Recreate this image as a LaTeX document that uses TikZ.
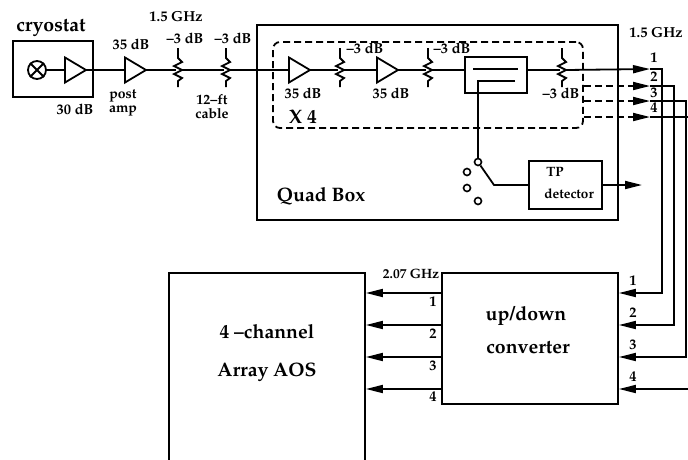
\documentclass[tikz,border=0pt]{standalone}
\usepackage[T1]{fontenc}
\usepackage{mathpazo}
\usetikzlibrary{arrows.meta}
\begin{document}
\begin{tikzpicture}[x=1pt,y=-1pt,
  wire/.style={line width=1.8pt},
  dsh/.style={line width=1.8pt, dash pattern=on 7pt off 4pt},
  box/.style={draw, wire, rectangle, inner sep=0pt},
  arr/.style={wire, -{Triangle[length=17pt,width=8pt]}},
  lbl/.style={inner sep=0pt, font=\fontsize{14.5}{15}\selectfont\bfseries},
  two/.style={inner sep=0pt, align=center, font=\fontsize{14}{14}\selectfont\bfseries},
  big/.style={inner sep=0pt, font=\fontsize{19.5}{20}\selectfont\bfseries},
  sm/.style={inner sep=0pt, font=\fontsize{13.5}{14}\selectfont\bfseries},
  dot/.style={draw, line width=1.6pt, circle, minimum size=7pt, inner sep=0pt},
  amp/.pic={\draw[wire] (-10,-12.5) -- (11,0) -- (-10,12.5) -- cycle;
            \coordinate (-in) at (-10,0); \coordinate (-out) at (11,0);},
  res/.pic={\draw[wire] (0,-22) -- (0,-12) -- (4,-8) -- (-4,-4) -- (4,0) -- (-4,4) -- (4,8) -- (0,11) -- (0,17);
            \coordinate (-w) at (-2,0); \coordinate (-e) at (4,0);}
]
\useasboundingbox (0,0) rectangle (688,459);

% ---------- cryostat ----------
\node[box, minimum width=80pt, minimum height=56pt] (cryo) at (53,69) {};
\node[big] (cryolbl) at (51,28) {cryostat};
\node[draw, wire, circle, minimum size=18pt, inner sep=0pt] (mix) at (37,70) {};
\draw[wire] (mix.north west) -- (mix.south east) (mix.north east) -- (mix.south west);
\pic (camp) at (75,70) {amp};
\draw[wire] (mix) -- (camp-in);
\node[lbl] (l30) at (75,109) {30 dB};

% ---------- post amp and cable ----------
\pic (pamp) at (135,70) {amp};
\draw[wire] (camp-out) -- (pamp-in);
\node[lbl] (l35a) at (131,44) {35 dB};
\node[two] (lpost) at (123,103) {post\\amp};
\pic (r1) at (178,70) {res};
\pic (r2) at (226,70) {res};
\draw[wire] (pamp-out) -- (r1-w) (r1-e) -- (r2-w);
\node[lbl] (lghz) at (176,17) {1.5 GHz};
\node[lbl] (lr1) at (185,38) {--3 dB};
\node[lbl] (lr2) at (233,38) {--3 dB};
\node[two] (l12) at (212,107) {12--ft\\cable};

% ---------- quad box ----------
\node[box, minimum width=361pt, minimum height=195pt] (quad) at (437.5,122.5) {};
\node[draw, dsh, rounded corners=7pt, minimum width=310pt, minimum height=86pt, inner sep=0pt] (x4box) at (428,85) {};
\pic (q1) at (299,70) {amp};
\draw[wire] (r2-e) -- (q1-in);
\pic (r3) at (340,70) {res};
\pic (q2) at (387,70) {amp};
\pic (r4) at (428,70) {res};
\node[box, minimum width=62pt, minimum height=36pt] (coup) at (496,75) {};
\pic (r5) at (562,70) {res};
\draw[wire] (q1-out) -- (r3-w) (r3-e) -- (q2-in) (q2-out) -- (r4-w)
            (r4-e) -- (r4-e -| coup.west) (coup.east |- r5-w) -- (r5-w);
\coordinate (cpa) at (473,69); \coordinate (cpb) at (518,69);
\coordinate (cpc) at (515,81); \coordinate (cpd) at (478,81);
\draw[wire] (cpa) -- (cpb);
\node[dot] (sw0) at (478,162) {};
\node[dot] (sw1) at (467,172) {};
\node[dot] (sw2) at (467,188) {};
\node[dot] (sw3) at (478,201) {};
\draw[wire] (cpc) -- (cpd) -- (sw0);
\node[lbl] (lq1) at (303,93) {35 dB};
\node[lbl] (lq2) at (391,93) {35 dB};
\node[lbl] (lr3) at (365,48) {--3 dB};
\node[lbl] (lr4) at (452,48) {--3 dB};
\node[lbl] (lr5) at (561,93) {--3 dB};
\node[big] (lx4) at (303,117) {X 4};
\node[big] (lquad) at (321,196) {Quad Box};

\coordinate (swk) at (494,185);
\node[box, minimum width=73pt, minimum height=48pt] (tp) at (565.5,185) {};
\node[sm] (ltp) at (555,172) {TP};
\node[sm] (ldet) at (569,194) {detector};
\draw[wire] (sw0) -- (swk) -- (tp.west);
\coordinate (tpo) at (642,185);
\draw[arr] (tp.east) -- (tpo);

% ---------- outputs of quad box ----------
\coordinate (o1) at (650,69);
\coordinate (o2) at (650,86);
\coordinate (o3) at (650,101);
\coordinate (o4) at (650,117);
\coordinate (m2) at (632,86);
\coordinate (m3) at (632,101);
\coordinate (m4) at (632,117);
\draw[arr] (r5-e) -- (o1);
\draw[dsh] (x4box.east |- m2) -- (m2);
\draw[dsh] (x4box.east |- m3) -- (m3);
\draw[dsh] (x4box.east |- m4) -- (m4);
\draw[arr] (m2) -- (o2);
\draw[arr] (m3) -- (o3);
\draw[arr] (m4) -- (o4);
\node[lbl] (lghz2) at (656,33) {1.5 GHz};
\node[lbl] (lo1) at (654,58) {1};
\node[lbl] (lo2) at (654,77) {2};
\node[lbl] (lo3) at (654,93) {3};
\node[lbl] (lo4) at (654,108) {4};

% ---------- converter ----------
\node[box, minimum width=176pt, minimum height=131pt] (conv) at (530,338.5) {};
\node[big] (lup) at (526,316) {up/down};
\node[big] (lconv) at (528,348) {converter};

\coordinate (v1) at (662,69);
\coordinate (v2) at (674,86);
\coordinate (v3) at (686,101);
\coordinate (e4a) at (692,117);
\coordinate (e4b) at (692,389);
\draw[arr] (o1) -- (v1) |- (conv.east |- 0,293);
\draw[arr] (o2) -- (v2) |- (conv.east |- 0,325);
\draw[arr] (o3) -- (v3) |- (conv.east |- 0,357);
\draw[wire] (o4) -- (e4a);
\draw[arr] (e4b) -- (conv.east |- e4b);
\node[lbl] (li1) at (633,281) {1};
\node[lbl] (li2) at (633,313) {2};
\node[lbl] (li3) at (633,345) {3};
\node[lbl] (li4) at (633,377) {4};

% ---------- AOS ----------
\node[box, minimum width=196pt, minimum height=210pt] (aos) at (267,378) {};
\node[big] (laos1) at (267,332) {4 --channel};
\node[big] (laos2) at (267,372) {Array AOS};
\draw[arr] (conv.west |- 0,293) -- (aos.east |- 0,293);
\draw[arr] (conv.west |- 0,325) -- (aos.east |- 0,325);
\draw[arr] (conv.west |- 0,357) -- (aos.east |- 0,357);
\draw[arr] (conv.west |- 0,389) -- (aos.east |- 0,389);
\node[lbl] (lc1) at (433,302) {1};
\node[lbl] (lc2) at (433,334) {2};
\node[lbl] (lc3) at (433,366) {3};
\node[lbl] (lc4) at (433,397) {4};
\node[sm] (l207) at (411,274) {2.07 GHz};
\end{tikzpicture}
\end{document}
